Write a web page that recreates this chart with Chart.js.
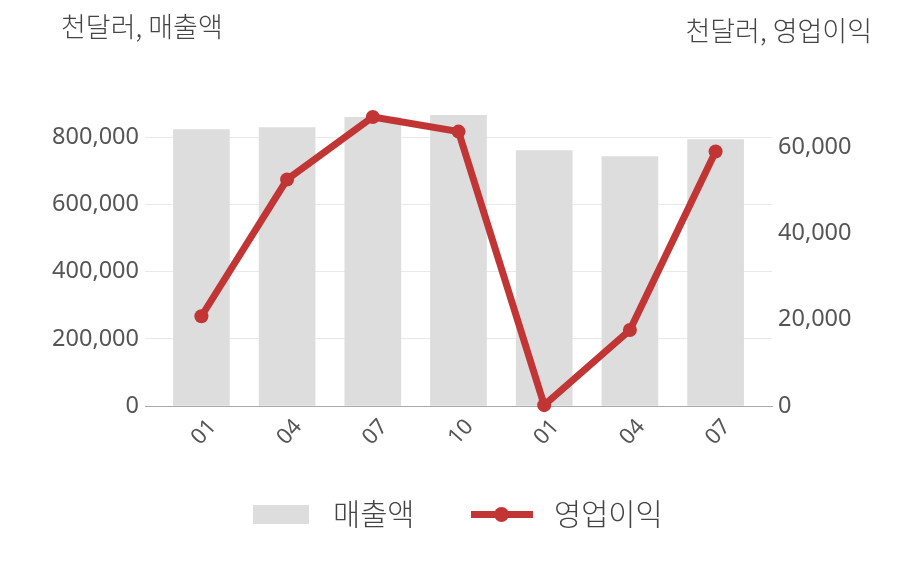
<!DOCTYPE html>
<html>
<head>
<meta charset="utf-8">
<script src="https://cdn.jsdelivr.net/npm/chart.js@4/dist/chart.umd.min.js"></script>
<style>
  html, body { margin: 0; padding: 0; background: #fff; }
  #wrap { position: relative; width: 908px; height: 580px; }
  #legend {
    position: absolute; left: 0; top: 494px; width: 908px; height: 40px;
    font-family: "Noto Sans CJK KR", "Noto Sans", sans-serif; font-size: 29.5px; font-weight: 300; color: #444;
  }
  .lg { position: absolute; top: -2px; line-height: 40px; }
  .box { position: absolute; left: 253px; top: 11px; width: 56px; height: 19px; background: #dddddd; }
  .ln { position: absolute; left: 471px; top: 17px; width: 62px; height: 7px; background: #c23535; }
  .dot { position: absolute; left: 494px; top: 13px; width: 15px; height: 15px; border-radius: 50%; background: #c23535; }
</style>
</head>
<body>
<div id="wrap">
  <canvas id="chart" width="908" height="580"></canvas>
  <div id="legend">
    <div class="box"></div>
    <div class="lg" style="left:333px">매출액</div>
    <div class="ln"></div>
    <div class="dot"></div>
    <div class="lg" style="left:554px">영업이익</div>
  </div>
</div>
<script>
// quarter labels
const quarters = ['01', '04', '07', '10', '01', '04', '07'];
// 매출액 (천달러)
const sales = [824000, 830000, 860000, 866000, 761000, 743000, 794000];
// 영업이익 (천달러)
const opProfit = [20800, 52500, 67000, 63600, 200, 17600, 59000];

const leftTicks = [0, 200000, 400000, 600000, 800000];
const rightTicks = [0, 20000, 40000, 60000];

const RED = '#c23535';
const BAR = '#dddddd';
const FONT = '"Noto Sans", "Noto Sans CJK KR", sans-serif';

const toPoints = arr => arr.map((v, i) => ({ x: i, y: v }));
const fmt = v => v.toLocaleString('en-US');

// axis captions above the chart
const captions = {
  id: 'captions',
  afterDraw(chart) {
    const ctx = chart.ctx;
    ctx.save();
    ctx.fillStyle = '#444';
    ctx.font = '300 27px "Noto Sans CJK KR", sans-serif';
    ctx.textBaseline = 'alphabetic';
    ctx.textAlign = 'left';
    ctx.fillText('천달러, 매출액', 61, 37);
    ctx.textAlign = 'right';
    ctx.fillText('천달러, 영업이익', 872, 41);
    ctx.restore();
  }
};

new Chart(document.getElementById('chart'), {
  data: {
    datasets: [
      {
        type: 'line',
        label: '영업이익',
        data: toPoints(opProfit),
        yAxisID: 'y1',
        borderColor: RED,
        backgroundColor: RED,
        borderWidth: 7,
        pointRadius: 7,
        pointBackgroundColor: RED,
        pointBorderWidth: 0,
        tension: 0,
        clip: false,
        order: 0
      },
      {
        type: 'bar',
        label: '매출액',
        data: toPoints(sales),
        yAxisID: 'y',
        backgroundColor: BAR,
        barThickness: 56,
        order: 1
      }
    ]
  },
  options: {
    responsive: false,
    devicePixelRatio: 1,
    animation: false,
    layout: { padding: { top: 104, left: 0, right: 0, bottom: 0 } },
    plugins: { legend: { display: false }, tooltip: { enabled: false } },
    scales: {
      x: {
        type: 'linear',
        offset: false,
        min: -0.658,
        max: 6.658,
        afterBuildTicks: s => { s.ticks = quarters.map((_, i) => ({ value: i })); },
        afterFit: s => { s.height = 174; },
        grid: { display: false, offset: false },
        border: { display: true, color: '#aaaaaa', width: 1 },
        ticks: {
          callback: v => quarters[v],
          minRotation: 48,
          maxRotation: 48,
          labelOffset: 11,
          padding: 0,
          color: '#555',
          font: { family: FONT, size: 22 }
        }
      },
      y: {
        position: 'left',
        min: 0,
        max: 900000,
        afterBuildTicks: s => { s.ticks = leftTicks.map(v => ({ value: v })); },
        afterFit: s => { s.width = 145; },
        border: { display: false },
        grid: { color: '#e9e9e9', drawTicks: false, lineWidth: 1 },
        ticks: {
          callback: v => fmt(v),
          padding: 6,
          color: '#555',
          font: { family: FONT, size: 23.5 }
        }
      },
      y1: {
        position: 'right',
        min: 0,
        max: 70000,
        afterBuildTicks: s => { s.ticks = rightTicks.map(v => ({ value: v })); },
        afterFit: s => { s.width = 136; },
        border: { display: false },
        grid: { display: false, drawTicks: false },
        ticks: {
          callback: v => fmt(v),
          padding: 6,
          color: '#555',
          font: { family: FONT, size: 23.5 }
        }
      }
    }
  },
  plugins: [captions]
});
</script>
</body>
</html>
